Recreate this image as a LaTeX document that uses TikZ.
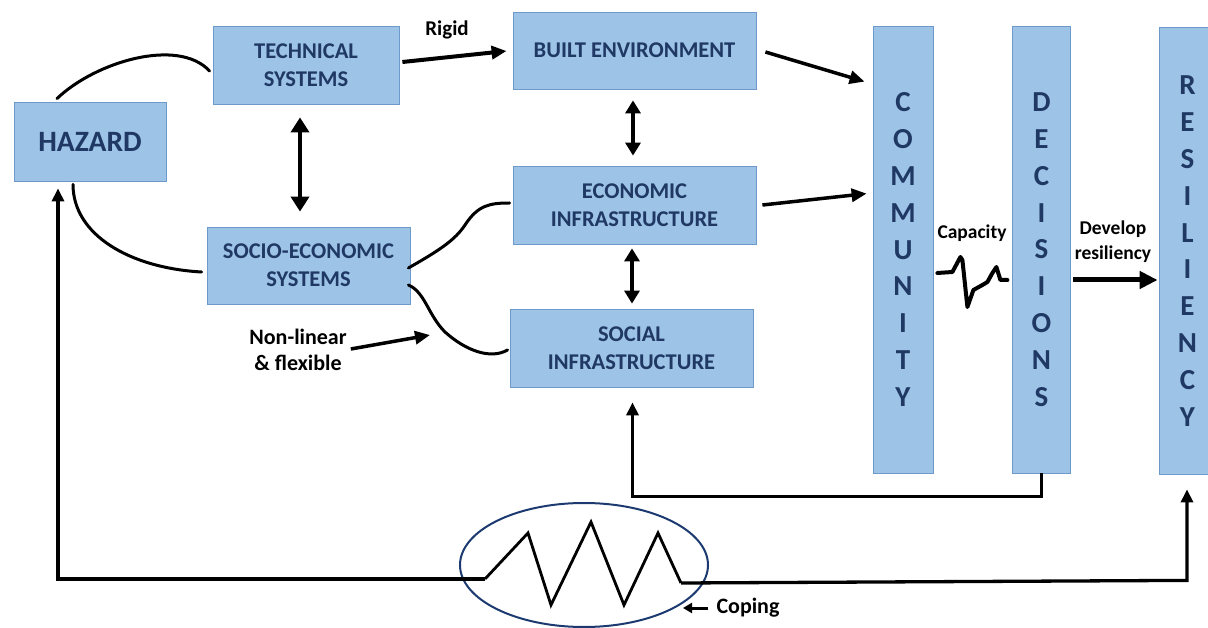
\documentclass[tikz,border=0pt]{standalone}
\usepackage{fontspec}
\setmainfont{Carlito}
\usetikzlibrary{arrows.meta,calc,shapes.geometric}

\definecolor{boxfill}{HTML}{9DC3E6}
\definecolor{boxline}{HTML}{6D9ACB}
\definecolor{navy}{HTML}{1F3864}
\definecolor{ringcol}{HTML}{1C3A70}

\tikzset{
  sysbox/.style={draw=boxline, fill=boxfill, line width=0.8pt, inner sep=0pt, text=navy, align=center,
    font=\bfseries\fontsize{22.5}{28}\selectfont},
  colbox/.style={sysbox, minimum width=58pt, minimum height=447pt, font=\bfseries\fontsize{29}{36.8}\selectfont},
  lbl/.style={inner sep=0pt, align=center, font=\bfseries\fontsize{21}{26}\selectfont},
  link/.style={line width=3pt, line cap=round},
  arr/.style={line width=3.5pt, -{Triangle[length=15pt,width=13pt]}},
  dblarr/.style={line width=3.5pt, {Triangle[length=13pt,width=15pt]}-{Triangle[length=13pt,width=15pt]}},
  fbarr/.style={line width=3.3pt, -{Triangle[length=13pt,width=12pt]}}
}

\begin{document}
\begin{tikzpicture}[x=1pt,y=1pt,yscale=-1,xscale=1]
\useasboundingbox (0,0) rectangle (1208,628);

% boxes
\node[sysbox, minimum width=152pt, minimum height=79pt, font=\bfseries\fontsize{29.5}{34}\selectfont] (hazard) at (90,141.5) {HAZARD};
\node[sysbox, minimum width=186pt, minimum height=78pt] (tech) at (306,65) {TECHNICAL\\SYSTEMS};
\node[sysbox, minimum width=203pt, minimum height=77pt] (socio) at (308.5,265.5) {SOCIO-ECONOMIC\\SYSTEMS};
\node[sysbox, minimum width=243pt, minimum height=77pt] (built) at (634.5,50.5) {BUILT ENVIRONMENT};
\node[sysbox, minimum width=243pt, minimum height=78pt] (econ) at (634.5,205) {ECONOMIC\\INFRASTRUCTURE};
\node[sysbox, minimum width=243pt, minimum height=78pt] (social) at (631.5,348) {SOCIAL\\INFRASTRUCTURE};
\node[colbox, minimum width=60pt] (comm) at (903,249.5) {C\\O\\M\\M\\U\\N\\I\\T\\Y};
\node[colbox] (dec) at (1041.5,249.5) {D\\E\\C\\I\\S\\I\\O\\N\\S};
\node[colbox, minimum width=57pt] (resil) at (1187.5,251) {R\\E\\S\\I\\L\\I\\E\\N\\C\\Y};

% labels
\node[lbl] (rigid) at (447,30) {Rigid};
\node[lbl, font=\bfseries\fontsize{22}{26}\selectfont] (nonlin) at (298,350) {Non-linear\\\& flexible};
\node[lbl, font=\bfseries\fontsize{19.5}{25}\selectfont] (capac) at (972,233) {Capacity};
\node[lbl, font=\bfseries\fontsize{19.5}{25}\selectfont] (develop) at (1113,242) {Develop\\resiliency};
\node[lbl, font=\bfseries\fontsize{22}{26}\selectfont] (coping) at (748,608) {Coping};

% coping ring
\node[ellipse, draw=ringcol, line width=2pt, minimum width=248pt, minimum height=124pt, inner sep=0pt] (cope) at (584,565) {};
\coordinate (zzL) at (485,579);
\coordinate (zzR) at (681,583);
\draw[line width=2.8pt] (zzL) -- (528,533) -- (551,605) -- (591,522) -- (624,605) -- (658,533) -- (zzR);
\coordinate (copetip) at (683,608);
\draw[line width=3pt, -{Triangle[length=9pt,width=10pt]}, shorten <=8pt] (coping.west) -- (copetip);

% hazard links
\draw[link] ($(hazard.north)+(-33,-3)$) .. controls (95,62) and (178,37) .. ($(tech.west)+(-3,6)$);
\draw[link] ($(hazard.south)+(-17,3)$) .. controls (73,235) and (130,268) .. ($(socio.west)+(-5,6.5)$);

% socio-economic links
\draw[link] ($(socio.east)+(-2,2.5)$) .. controls (440,250) and (455,240) .. (465,225)
  .. controls (478,205) and (490,203) .. ($(econ.west)+(-3,-2)$);
\draw[link] ($(socio.east)+(-2,19.5)$) .. controls (425,292) and (428,315) .. (445,332)
  .. controls (465,350) and (490,360) .. ($(social.west)+(-2,2)$);
\coordinate (flexpt) at (430,335);
\draw[arr] ($(nonlin.east)+(4,-1)$) -- (flexpt);

% arrows
\draw[dblarr, line width=4.5pt, {Triangle[length=15pt,width=18pt]}-{Triangle[length=15pt,width=18pt]}] ($(tech.south)+(-6,13)$) -- ($(socio.north)+(-8.5,-15)$);
\draw[arr, line width=4pt] ($(tech.east)+(3,-3)$) -- ($(built.west)+(-6,0.5)$);
\draw[arr] ($(built.east)+(9,1.5)$) -- ($(comm.north west)+(-8,56)$);
\draw[arr] ($(econ.east)+(6,0)$) -- ($(comm.north west)+(-6,168)$);
\draw[dblarr] ($(built.south)+(-1.5,11)$) -- ($(econ.north)+(-1.5,-10)$);
\draw[dblarr] ($(econ.south)+(-2.5,4)$) -- ($(social.north)+(0.5,-5)$);

% capacity
\draw[line width=4pt, line join=round, line cap=round] ($(comm.east)+(4,23.5)$) -- ++(15,-1) -- ++(8,-15) -- ++(2,3)
  -- ++(5,47) -- ++(6,-17) -- ++(9,-5) -- ++(5,-3) -- ++(5,-9) -- ++(4,-6) -- ++(4,13) -- ++(7,0);
\draw[arr, line width=5pt, -{Triangle[length=18pt,width=17pt]}] ($(dec.east)+(2,30.5)$) -- ($(resil.west)+(-1,29)$);

% feedback loops
\draw[fbarr] (dec.south) -- ++(0,23) -| ($(social.south)+(1,15)$);
\draw[fbarr] (zzL) -| ($(hazard.south)+(-32,7)$);
\draw[fbarr] (zzR) -- ($(resil.south)+(-0.5,105.5)$) -- ($(resil.south)+(-0.5,14.5)$);
\end{tikzpicture}
\end{document}
